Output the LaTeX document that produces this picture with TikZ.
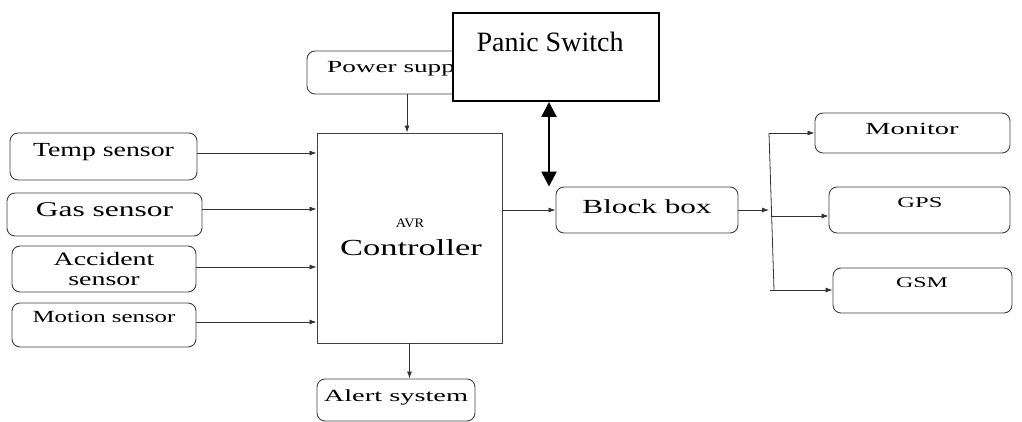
\documentclass[tikz,border=0pt]{standalone}
\usepackage{fontspec}
\setmainfont{Liberation Serif}
\usepackage{graphicx}
\usetikzlibrary{arrows.meta,calc}

% label text: size in pt, horizontal stretch, content
\newcommand{\lbl}[3]{\fontsize{#1}{#1}\selectfont\scalebox{#2}[1]{#3}}

\begin{document}
\begin{tikzpicture}[x=1pt,y=-1pt,
  box/.style={draw=black!75, line width=0.9pt, rounded corners=8pt, inner sep=0pt, fill=white},
  blk/.style={draw=black!75, line width=0.9pt, inner sep=0pt, fill=white},
  swbox/.style={draw=black, line width=2pt, inner sep=0pt, fill=white},
  txt/.style={inner sep=0pt, text=black},
  arr/.style={draw=black!80, line width=0.8pt, -{Latex[length=7pt,width=5pt]}},
  ln/.style={draw=black!80, line width=0.8pt},
  dbl/.style={draw=black, line width=2.5pt, {Triangle[length=15pt,width=15pt]}-{Triangle[length=15pt,width=15pt]}}
]
\useasboundingbox (0,0) rectangle (1022,422);

% sensor inputs
\node[box, minimum width=187pt, minimum height=47pt] (temp) at (103.5,156.5) {};
\node[txt] (tempT) at (103.5,152) {\lbl{20}{1.39}{Temp sensor}};
\node[box, minimum width=195pt, minimum height=43pt] (gas) at (104.5,214.5) {};
\node[txt] (gasT) at (104.5,210) {\lbl{21}{1.5}{Gas sensor}};
\node[box, minimum width=184pt, minimum height=46pt] (acc) at (104,269) {};
\node[txt] (accT) at (104,271) {\fontsize{19}{21}\selectfont\scalebox{1.47}[1]{\begin{tabular}{@{}c@{}}Accident\\[-1pt]sensor\end{tabular}}};
\node[box, minimum width=184pt, minimum height=44pt] (mot) at (104,325) {};
\node[txt] (motT) at (104,317) {\lbl{17}{1.46}{Motion sensor}};

% controller
\node[blk, minimum width=185pt, minimum height=210pt] (ctrl) at (409.5,238) {};
\node[txt] (avrT) at (410,223) {\lbl{13}{1.1}{AVR}};
\node[txt] (ctrlT) at (411,248) {\lbl{23}{1.5}{Controller}};

% power supply (partly covered by the panic switch)
\node[box, minimum width=168pt, minimum height=43pt] (power) at (391,72.5) {};
\node[txt, anchor=west] (powerT) at (327,68) {\lbl{17}{1.6}{Power supply}};

% panic switch
\node[swbox, minimum width=206pt, minimum height=88pt] (panic) at (556,57) {};
\node[txt] (panicT) at (550,42) {\fontsize{28}{28}\selectfont Panic Switch};

% block box and outputs
\node[box, minimum width=182pt, minimum height=46pt] (block) at (647,210) {};
\node[txt] (blockT) at (647,207) {\lbl{20}{1.56}{Block box}};
\node[box, minimum width=195pt, minimum height=40pt] (mon) at (912.5,133) {};
\node[txt] (monT) at (912,129) {\lbl{17}{1.67}{Monitor}};
\node[box, minimum width=181pt, minimum height=46pt] (gps) at (919.5,210) {};
\node[txt] (gpsT) at (920,203) {\lbl{15}{1.64}{GPS}};
\node[box, minimum width=179pt, minimum height=45pt] (gsm) at (922.5,290.5) {};
\node[txt] (gsmT) at (922,283) {\lbl{15}{1.6}{GSM}};

% alert output
\node[box, minimum width=158pt, minimum height=42pt] (alert) at (396,400) {};
\node[txt] (alertT) at (396,397) {\lbl{17}{1.67}{Alert system}};

% sensor connectors
\draw[arr] ([yshift=3.5pt]temp.east) -- ([yshift=3.5pt]temp.east -| ctrl.west);
\draw[arr] ([yshift=5.5pt]gas.east) -- ([yshift=5.5pt]gas.east -| ctrl.west);
\draw[arr] ([yshift=2pt]acc.east) -- ([yshift=2pt]acc.east -| ctrl.west);
\draw[arr] ([yshift=3pt]mot.east) -- ([yshift=3pt]mot.east -| ctrl.west);

% power and alert
\draw[arr] ([xshift=-2.5pt]ctrl.north |- power.south) -- ([xshift=-2.5pt]ctrl.north);
\draw[arr] (ctrl.south) -- (ctrl.south |- alert.north);

% controller to block box, panic switch link
\draw[arr] (block.west -| ctrl.east) -- (block.west);
\draw[dbl] ([xshift=-7pt]panic.south) -- ([xshift=-7pt]panic.south |- block.north);

% distribution bus
\coordinate (bt) at (769,133);
\coordinate (bb) at (774,290);
\coordinate (bg) at (771,216);
\draw[arr] (block.east) -- (block.east -| bt);
\draw[ln] (bt) -- (bb);
\draw[arr] (bt) -- (mon.west);
\draw[arr] (bg) -- (bg -| gps.west);
\draw[arr] ([xshift=-4pt]bb) -- (bb -| gsm.west);
\end{tikzpicture}
\end{document}
